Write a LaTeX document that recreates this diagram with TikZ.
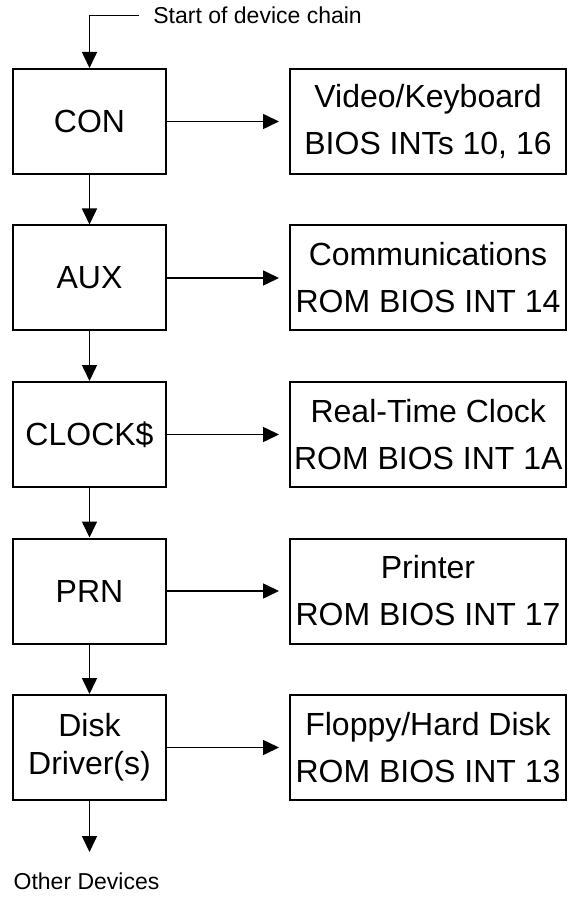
\documentclass[tikz,border=0pt]{standalone}
\usepackage{fontspec}
\setmainfont{Liberation Sans}
\usepackage{tikz}
\usetikzlibrary{arrows.meta, positioning}

\begin{document}
\begin{tikzpicture}[
    node distance=24.75pt,
    driver/.style={rectangle, draw, line width=1pt, minimum width=76.5pt, minimum height=52.5pt, inner sep=2pt, align=center, font=\fontsize{16}{19}\selectfont},
    service/.style={rectangle, draw, line width=1pt, minimum width=138pt, minimum height=52.5pt, inner sep=2pt, align=center, font=\fontsize{16}{23.5}\selectfont},
    note/.style={inner sep=0pt, font=\fontsize{11.5}{14}\selectfont},
    arrow/.style={-{Triangle[length=8pt, width=7.5pt]}, line width=0.8pt}
]
\useasboundingbox (0,0) rectangle (284.5pt,-448.5pt);

\node[driver] (con) at (44.75pt,-60.75pt) {CON};
\node[driver, below=of con] (aux) {AUX};
\node[driver, below=of aux] (clock) {CLOCK\$};
\node[driver, below=of clock] (prn) {PRN};
\node[driver, below=of prn] (disk) {Disk\\Driver(s)};

\node[service, right=61pt of con] (video) {Video/Keyboard\\BIOS INTs 10, 16};
\node[service, right=61pt of aux] (comm) {Communications\\ROM BIOS INT 14};
\node[service, right=61pt of clock] (rtc) {Real-Time Clock\\ROM BIOS INT 1A};
\node[service, right=61pt of prn] (printer) {Printer\\ROM BIOS INT 17};
\node[service, right=61pt of disk] (floppy) {Floppy/Hard Disk\\ROM BIOS INT 13};

\node[note, anchor=west] (startlbl) at ([xshift=31.75pt, yshift=26.25pt]con.north) {Start of device chain};
\node[note, below=35.5pt of disk, xshift=-1.5pt] (other) {Other Devices};

\draw[arrow] ([xshift=-7pt]startlbl.west) -| (con.north);
\draw[arrow] (con) -- (aux);
\draw[arrow] (aux) -- (clock);
\draw[arrow] (clock) -- (prn);
\draw[arrow] (prn) -- (disk);
\draw[arrow, shorten >=10pt] (disk.south) -- (disk.south |- other.north);

\draw[arrow, shorten >=5pt] (con) -- (video);
\draw[arrow, shorten >=5pt] (aux) -- (comm);
\draw[arrow, shorten >=5pt] (clock) -- (rtc);
\draw[arrow, shorten >=5pt] (prn) -- (printer);
\draw[arrow, shorten >=5pt] (disk) -- (floppy);

\end{tikzpicture}
\end{document}
